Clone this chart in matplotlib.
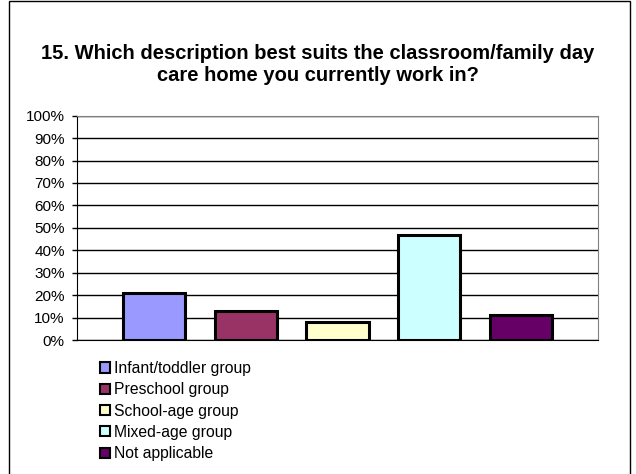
import matplotlib.pyplot as plt
from matplotlib.patches import Patch, Rectangle
import numpy as np

plt.rcParams['font.family'] = ['Liberation Sans', 'DejaVu Sans']

# survey answers (share of respondents, %)
groups = ['Infant/toddler group', 'Preschool group', 'School-age group',
          'Mixed-age group', 'Not applicable']
shares = [21, 13, 8, 47, 11]
colors = ['#9999FF', '#993366', '#FFFFCC', '#CCFFFF', '#660066']
yticks = np.arange(0, 101, 10)
title = '15. Which description best suits the classroom/family day\ncare home you currently work in?'

fig = plt.figure(figsize=(6.36, 4.74), dpi=100)
fig.patches.append(Rectangle((9 / 636, -0.01), 621 / 636, 1.0 - 1 / 474 + 0.01,
                             transform=fig.transFigure, fill=False,
                             edgecolor='black', linewidth=1.0))

ax = fig.add_axes([77 / 636, 1 - 340 / 474, 521 / 636, 224.3 / 474])
x = np.arange(len(groups))
ax.bar(x, shares, width=0.676, color=colors, edgecolor='black', linewidth=2.2, zorder=3)

ax.set_xlim(-0.84, 4.84)
ax.set_ylim(0, 100)
ax.set_yticks(yticks)
ax.set_yticklabels([f'{v}%' for v in yticks], fontsize=11)
ax.set_xticks([])
ax.tick_params(axis='y', length=3.8, width=1, pad=5)
ax.grid(axis='y', color='black', linewidth=1.0, zorder=0)
for side in ['left', 'bottom']:
    ax.spines[side].set_color('black')
for side in ['top', 'right']:
    ax.spines[side].set_color('#808080')

fig.text(0.5, 1 - 64.5 / 474, title, ha='center', va='center',
         fontsize=14.5, fontweight='bold', linespacing=1.2)

handles = [Patch(facecolor=c, edgecolor='black', linewidth=1.5) for c in colors]
fig.legend(handles, groups, loc='upper left', bbox_to_anchor=(100 / 636, 1 - 361 / 474),
           frameon=False, fontsize=11.3, handlelength=0.62, handleheight=0.62,
           handletextpad=0.3, labelspacing=0.4, borderpad=0, borderaxespad=0)

fig.savefig('out.png', dpi=100)
